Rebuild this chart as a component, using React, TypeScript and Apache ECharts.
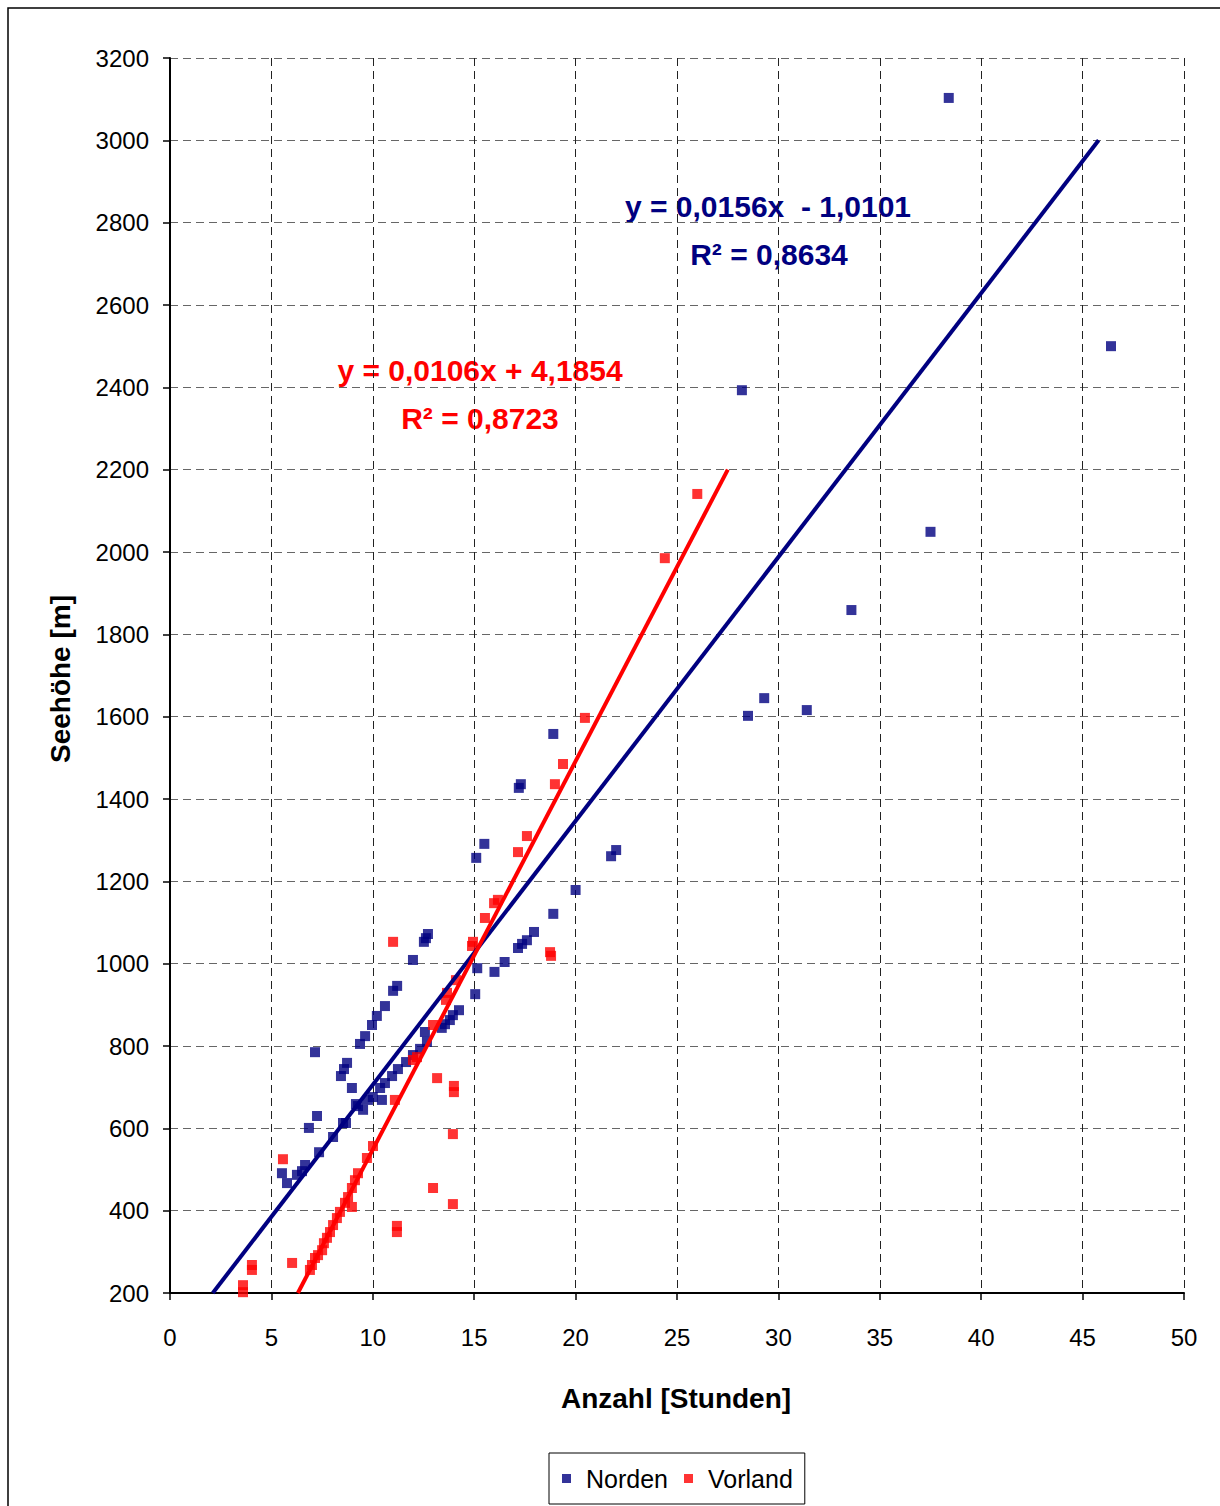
import React, { useEffect, useRef } from "react";
import * as echarts from "echarts";

// Norden: [Anzahl Stunden, Seehöhe m]
const nordenPoints: number[][] = [
  [38.4, 3103], [46.4, 2500], [28.2, 2393], [37.5, 2049], [33.6, 1859],
  [29.3, 1645], [28.5, 1602], [31.4, 1616], [18.9, 1558], [17.3, 1436],
  [17.2, 1427], [15.5, 1291], [15.1, 1257], [21.75, 1261], [22.0, 1276],
  [20.0, 1179], [18.9, 1121], [17.95, 1077], [17.6, 1057], [17.36, 1048],
  [17.16, 1038], [16.5, 1004], [16.0, 980], [15.15, 989], [15.05, 926],
  [14.25, 887], [13.95, 875], [13.8, 863], [13.56, 853], [13.4, 844],
  [12.72, 1072], [12.62, 1062], [12.52, 1053], [11.98, 1009], [11.2, 946],
  [11.0, 934], [10.6, 897], [10.2, 873], [9.96, 851], [9.62, 824],
  [9.37, 805], [7.15, 785], [8.73, 759], [8.58, 744], [8.43, 727],
  [8.97, 698], [12.67, 810], [12.33, 793], [11.98, 778], [11.64, 761],
  [11.24, 744], [10.95, 727], [10.6, 710], [10.36, 698], [10.0, 676],
  [10.45, 669], [9.27, 654], [9.52, 645], [9.17, 659], [9.76, 669],
  [7.25, 630], [6.85, 601], [8.04, 579], [8.68, 613], [8.53, 613],
  [7.35, 542], [6.66, 511], [6.51, 496], [6.26, 487], [5.77, 467],
  [5.52, 491], [12.57, 834],
];

// Vorland: [Anzahl Stunden, Seehöhe m]
const vorlandPoints: number[][] = [
  [26.0, 2141], [24.4, 1985], [20.46, 1597], [19.38, 1485], [18.98, 1436],
  [17.6, 1310], [17.16, 1271], [16.17, 1155], [15.98, 1147], [15.53, 1111],
  [14.89, 1043], [14.94, 1053], [14.1, 960], [13.66, 929], [13.61, 912],
  [12.97, 851], [11.0, 1053], [18.74, 1028], [18.79, 1019], [14.0, 703],
  [14.0, 688], [13.17, 722], [13.95, 586], [12.97, 455], [13.95, 416],
  [11.19, 363], [11.19, 348], [11.09, 669], [12.18, 773], [11.98, 766],
  [10.01, 557], [9.71, 528], [9.27, 491], [9.12, 474], [8.97, 455],
  [8.78, 433], [8.63, 419], [8.97, 409], [8.38, 397], [8.23, 382],
  [8.04, 365], [7.89, 348], [7.74, 334], [7.59, 321], [7.5, 304],
  [7.3, 292], [7.15, 285], [7.0, 268], [6.9, 256], [6.02, 273],
  [4.04, 268], [4.04, 256], [3.6, 219], [3.6, 202], [5.57, 525],
];

// Trend lines (Excel: Anzahl = slope * Seehöhe + intercept)
const nordenSlope = 0.0156;
const nordenIntercept = -1.0101;
const nordenRange = [200, 3000];
const vorlandSlope = 0.0106;
const vorlandIntercept = 4.1854;
const vorlandRange = [200, 2200];

const nordenEquation = "y = 0,0156x  - 1,0101";
const nordenR2 = "R² = 0,8634";
const vorlandEquation = "y = 0,0106x + 4,1854";
const vorlandR2 = "R² = 0,8723";

const xTitle = "Anzahl [Stunden]";
const yTitle = "Seehöhe [m]";
const seriesNames = ["Norden", "Vorland"];

const NAVY = "#000080";
const RED = "#ff0000";
const FONT = "'Liberation Sans', Arial, sans-serif";

export default function App() {
  const ref = useRef<HTMLDivElement>(null);
  useEffect(() => {
    const chart = echarts.init(ref.current!, null, { renderer: "svg" });
    const trend = (slope: number, icpt: number, range: number[]) =>
      range.map((h) => [slope * h + icpt, h]);
    const eqFont = `bold 30px ${FONT}`;
    chart.setOption({
      animation: false,
      backgroundColor: "#fff",
      textStyle: { fontFamily: FONT },
      grid: { left: 170, top: 58, width: 1014, height: 1235, containLabel: false },
      xAxis: {
        type: "value",
        min: 0,
        max: 50,
        interval: 5,
        axisLine: { show: true, onZero: false, lineStyle: { color: "#000", width: 2 } },
        axisTick: { show: true, length: 7, lineStyle: { color: "#000", width: 1.5 } },
        axisLabel: { color: "#000", fontSize: 24, margin: 32, fontFamily: FONT },
        splitLine: { show: true, lineStyle: { color: "#222", width: 1, type: [8, 5] } },
      },
      yAxis: {
        type: "value",
        min: 200,
        max: 3200,
        interval: 200,
        axisLine: { show: true, onZero: false, lineStyle: { color: "#000", width: 2 } },
        axisTick: { show: true, length: 7, lineStyle: { color: "#000", width: 1.5 } },
        axisLabel: {
          color: "#000", fontSize: 24, margin: 21, fontFamily: FONT,
          formatter: (v: number) => String(v),
        },
        splitLine: { show: true, lineStyle: { color: "#666", width: 1, type: [8, 5] } },
      },
      legend: {
        data: seriesNames,
        left: 549,
        top: 1453,
        orient: "horizontal",
        icon: "rect",
        itemWidth: 9,
        itemHeight: 9,
        itemGap: 16,
        borderColor: "#000",
        borderWidth: 1,
        padding: [13, 12, 13, 13],
        textStyle: { color: "#000", fontSize: 25, fontFamily: FONT, padding: [0, 0, 0, 10] },
      },
      series: [
        {
          name: seriesNames[0],
          type: "scatter",
          symbol: "rect",
          symbolSize: 10,
          itemStyle: { color: NAVY },
          data: nordenPoints,
          z: 3,
        },
        {
          name: seriesNames[1],
          type: "scatter",
          symbol: "rect",
          symbolSize: 10,
          itemStyle: { color: RED },
          data: vorlandPoints,
          z: 3,
        },
        {
          name: "Trend Norden",
          type: "line",
          showSymbol: false,
          symbol: "none",
          lineStyle: { color: NAVY, width: 4 },
          data: trend(nordenSlope, nordenIntercept, nordenRange),
          z: 4,
        },
        {
          name: "Trend Vorland",
          type: "line",
          showSymbol: false,
          symbol: "none",
          lineStyle: { color: RED, width: 4 },
          data: trend(vorlandSlope, vorlandIntercept, vorlandRange),
          z: 4,
        },
      ],
      graphic: [
        {
          type: "rect",
          shape: { x: 8, y: 8, width: 1240, height: 1540 },
          style: { fill: "none", stroke: "#000", lineWidth: 1.5 },
          silent: true,
        },
        {
          type: "text",
          x: 676,
          y: 1398,
          style: {
            text: xTitle, fill: "#000", font: `bold 28px ${FONT}`,
            textAlign: "center", textVerticalAlign: "middle",
          },
        },
        {
          type: "text",
          x: 60,
          y: 679,
          rotation: Math.PI / 2,
          style: {
            text: yTitle, fill: "#000", font: `bold 28px ${FONT}`,
            textAlign: "center", textVerticalAlign: "middle",
          },
        },
        {
          type: "text", x: 768, y: 206,
          style: { text: nordenEquation, fill: NAVY, font: eqFont, textAlign: "center", textVerticalAlign: "middle" },
        },
        {
          type: "text", x: 769, y: 254,
          style: { text: nordenR2, fill: NAVY, font: eqFont, textAlign: "center", textVerticalAlign: "middle" },
        },
        {
          type: "text", x: 480, y: 370,
          style: { text: vorlandEquation, fill: RED, font: eqFont, textAlign: "center", textVerticalAlign: "middle" },
        },
        {
          type: "text", x: 480, y: 418,
          style: { text: vorlandR2, fill: RED, font: eqFont, textAlign: "center", textVerticalAlign: "middle" },
        },
      ],
    });
    return () => chart.dispose();
  }, []);
  return (
    <div
      ref={ref}
      style={{ position: "fixed", left: 0, top: 0, width: 1220, height: 1506, background: "#fff" }}
    />
  );
}
